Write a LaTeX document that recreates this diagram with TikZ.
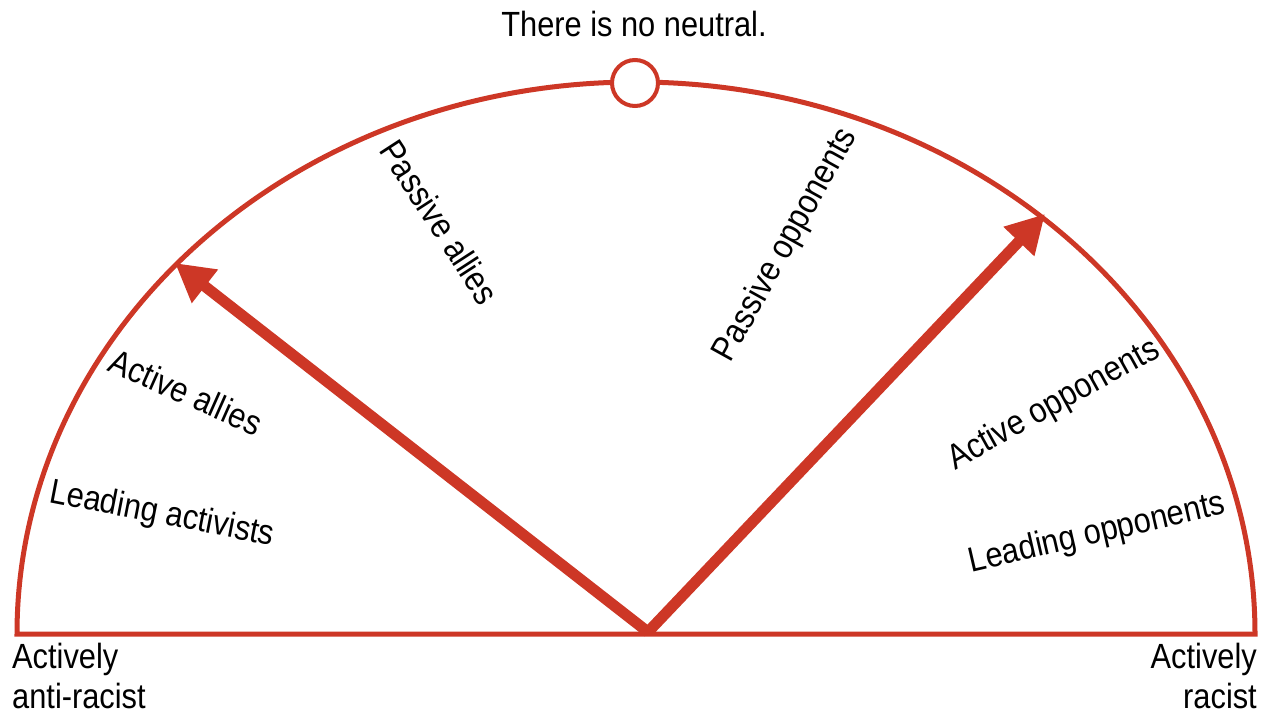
\documentclass[tikz,border=0pt]{standalone}
\usepackage{fontspec}
\setmainfont{Liberation Sans}[FakeStretch=0.88]
\usetikzlibrary{arrows.meta}
\definecolor{meterred}{RGB}{205,55,38}
\begin{document}
\begin{tikzpicture}[x=1pt,y=1pt,
  outline/.style={draw=meterred,line width=5pt,line join=miter},
  pointer/.style={draw=meterred,line width=11pt,-{Triangle[length=38pt,width=40pt]}},
  lbl/.style={font=\fontsize{35}{40}\selectfont,inner sep=0pt,text=black},
  dot/.style={circle,draw=meterred,line width=4pt,fill=white,minimum size=46pt,inner sep=0pt}]
\useasboundingbox (0,0) rectangle (1270,-717);
\coordinate (L) at (17,-634);
\coordinate (R) at (1255,-634);
\coordinate (O) at (648,-632);
\coordinate (TL) at (175,-263);
\coordinate (TR) at (1045,-214);
\draw[outline] (L) arc[start angle=180,end angle=0,x radius=619pt,y radius=552pt] -- (L) -- cycle;
\node[dot] (neutral) at (635,-83) {};
\draw[pointer] (O) -- (TL);
\draw[pointer] (O) -- (TR);
\node[lbl,anchor=base] (title) at (634,-37) {There is no neutral.};
\node[lbl,anchor=base west] (aar1) at (12,-668) {Actively};
\node[lbl,anchor=base west] (aar2) at (12,-708) {anti-racist};
\node[lbl,anchor=base east] (ar1) at (1257,-668) {Actively};
\node[lbl,anchor=base east] (ar2) at (1257,-708) {racist};
\node[lbl,rotate=-57] (pa) at (440,-222) {Passive allies};
\node[lbl,rotate=61] (po) at (786,-245) {Passive opponents};
\node[lbl,rotate=-24] (aa) at (186,-392) {Active allies};
\node[lbl,rotate=-11] (la) at (162,-515) {Leading activists};
\node[lbl,rotate=29] (ao) at (1054,-405) {Active opponents};
\node[lbl,rotate=13] (lo) at (1097,-534) {Leading opponents};
\end{tikzpicture}
\end{document}
